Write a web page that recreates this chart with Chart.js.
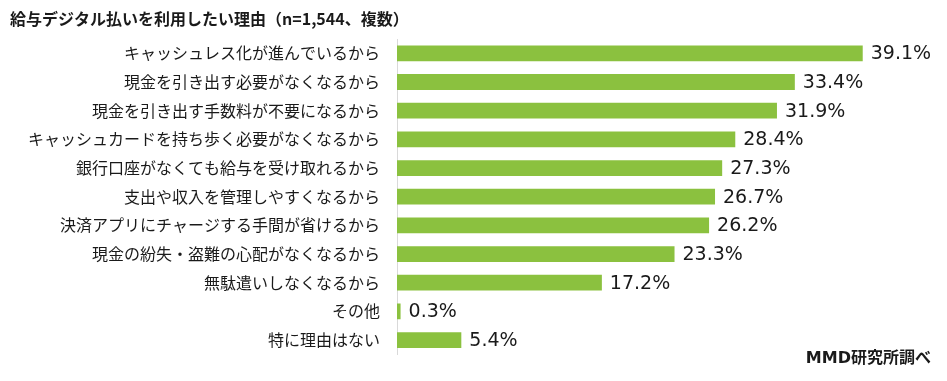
<!DOCTYPE html>
<html><head><meta charset="utf-8">
<script src="https://cdn.jsdelivr.net/npm/chart.js@4/dist/chart.umd.min.js"></script>
<style>html,body{margin:0;padding:0;background:#fff}#wrap{width:947px;height:381px;position:relative}</style>
</head><body><div id="wrap"><canvas id="c" width="947" height="381"></canvas></div>
<script>
const titleText = '給与デジタル払いを利用したい理由（n=1,544、複数）';
const sourceText = 'MMD研究所調べ';
const categories = [
  'キャッシュレス化が進んでいるから',
  '現金を引き出す必要がなくなるから',
  '現金を引き出す手数料が不要になるから',
  'キャッシュカードを持ち歩く必要がなくなるから',
  '銀行口座がなくても給与を受け取れるから',
  '支出や収入を管理しやすくなるから',
  '決済アプリにチャージする手間が省けるから',
  '現金の紛失・盗難の心配がなくなるから',
  '無駄遣いしなくなるから',
  'その他',
  '特に理由はない'
];
const values = [39.1, 33.4, 31.9, 28.4, 27.3, 26.7, 26.2, 23.3, 17.2, 0.3, 5.4];

const CJK = '"Noto Sans CJK JP", "Noto Sans", sans-serif';

const textPlugin = {
  id: 'texts',
  afterDatasetsDraw(chart) {
    const ctx = chart.ctx;
    const meta = chart.getDatasetMeta(0);
    ctx.save();
    ctx.fillStyle = '#1a1a1a';
    ctx.font = '19px "DejaVu Sans", Verdana, sans-serif';
    ctx.textAlign = 'left';
    ctx.textBaseline = 'middle';
    meta.data.forEach((bar, i) => {
      ctx.fillText(values[i].toFixed(1) + '%', bar.x + 8, bar.y + 1);
    });
    ctx.font = 'bold 16px ' + CJK;
    ctx.textBaseline = 'middle';
    ctx.fillText(titleText, 10, 19);
    ctx.font = 'bold 16px "DejaVu Sans", ' + CJK;
    ctx.textAlign = 'right';
    ctx.fillText(sourceText, 931, 359);
    ctx.restore();
  }
};

new Chart(document.getElementById('c'), {
  type: 'bar',
  data: {
    labels: categories,
    datasets: [{
      data: values,
      backgroundColor: '#8BC13F',
      borderWidth: 0,
      barPercentage: 0.55,
      categoryPercentage: 1.0
    }]
  },
  options: {
    indexAxis: 'y',
    responsive: false,
    animation: false,
    layout: { padding: { top: 39, bottom: 23, left: 0, right: 14 } },
    plugins: { legend: { display: false }, tooltip: { enabled: false }, title: { display: false } },
    scales: {
      x: { display: false, min: 0, max: 45 },
      y: {
        afterFit(s) { s.width = 397; },
        grid: { display: false, drawTicks: false },
        border: { display: true, color: '#d9d9d9', width: 1 },
        ticks: {
          padding: 17,
          color: '#1a1a1a',
          font: { family: CJK, size: 16 }
        }
      }
    }
  },
  plugins: [textPlugin]
});
</script>
</body></html>
